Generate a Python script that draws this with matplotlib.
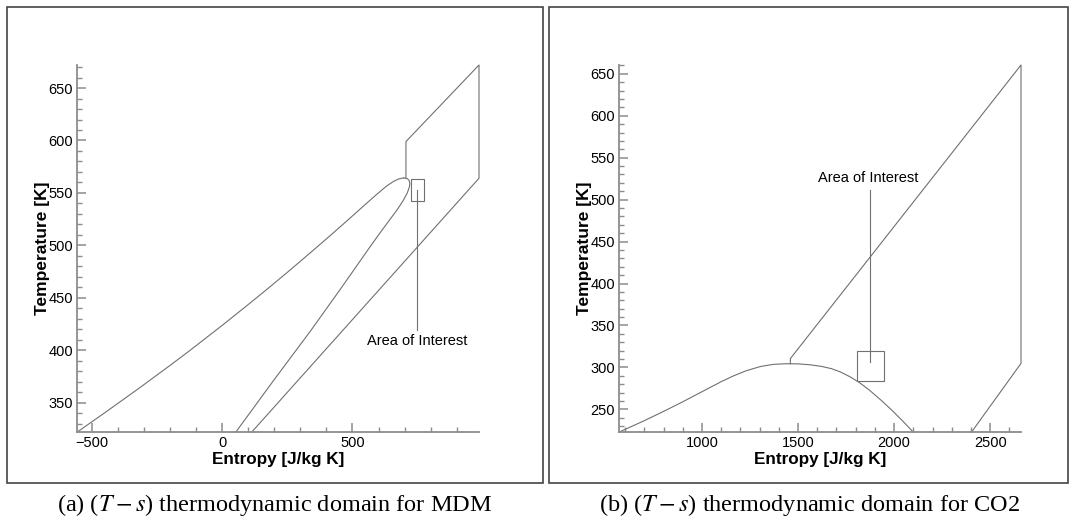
import matplotlib
matplotlib.use("Agg")
import matplotlib.pyplot as plt
from matplotlib.patches import Rectangle
from matplotlib.ticker import MultipleLocator

plt.rcParams['font.family'] = ['Liberation Sans', 'DejaVu Sans']
plt.rcParams['mathtext.fontset'] = 'stix'

# ---------------- MDM (left) ----------------
mdm_xlim = (-555, 985)
mdm_ylim = (322, 672)
mdm_bubble_s = [-555, -450, -318, -200, -131, 0, 100, 176, 260, 349, 420, 482,
                540, 589, 630, 656, 675, 688, 696]
mdm_bubble_T = [322, 340.3, 363.8, 385.4, 398.3, 423.6, 443.5, 458.9, 476.3, 495.2,
                510.5, 524.1, 537, 547.8, 556.4, 560.8, 563.1, 564.0, 564.3]
mdm_dew_s = [696, 703, 710, 717, 720, 718, 710, 695, 670, 640, 600, 560, 453, 338, 200, 53]
mdm_dew_T = [564.3, 564.2, 563.6, 562, 559, 555.5, 550, 543, 533.5, 523.5, 510, 496,
             458, 418, 372, 322]
mdm_domain_s = [705, 705, 985, 985, 114]
mdm_domain_T = [563.9, 599, 672, 564, 322]
mdm_box_s = (724, 775)
mdm_box_T = (542, 563)
mdm_pointer_s = [747, 747]
mdm_pointer_T = [553, 419]
mdm_label_pos = (747, 409)

# ---------------- CO2 (right) ----------------
co2_xlim = (570, 2660)
co2_ylim = (223, 660.5)
co2_dome_s = [570, 700, 800, 900, 1000, 1100, 1165, 1230, 1303, 1370, 1440, 1500,
              1560, 1620, 1674, 1720, 1769, 1820, 1873, 1930, 1990, 2050, 2099]
co2_dome_T = [223, 236.5, 247.5, 259, 271, 283, 290, 296, 301, 303.6, 304.4, 304.2,
              303.2, 301.3, 298.5, 294.6, 289.0, 281.8, 272.6, 261.3, 248.6, 234.8, 223]
co2_domain_s = [1460, 1460, 2660, 2660, 2403]
co2_domain_T = [304.4, 310.5, 660.5, 304.8, 223]
co2_box_s = (1807, 1948)
co2_box_T = (284, 319)
co2_pointer_s = [1873, 1873]
co2_pointer_T = [306, 511]
co2_label_pos = (1866, 526)

captions = [r"(a) ($T-s$) thermodynamic domain for MDM",
            r"(b) ($T-s$) thermodynamic domain for CO2"]

W, H = 1073, 525
fig = plt.figure(figsize=(W / 100, H / 100), dpi=100)

line_c = '#707070'
axis_c = '#8c8c8c'

def make_ax(left_px, right_px, top_px, bottom_px):
    return fig.add_axes([left_px / W, 1 - bottom_px / H,
                         (right_px - left_px) / W, (bottom_px - top_px) / H])

def style(ax, xlim, ylim, xmaj, xmin, ymaj, ymin):
    ax.set_xlim(*xlim)
    ax.set_ylim(*ylim)
    for sp in ['top', 'right']:
        ax.spines[sp].set_visible(False)
    for sp in ['left', 'bottom']:
        ax.spines[sp].set_color(axis_c)
        ax.spines[sp].set_linewidth(1.3)
    ax.xaxis.set_major_locator(MultipleLocator(xmaj))
    ax.xaxis.set_minor_locator(MultipleLocator(xmin))
    ax.yaxis.set_major_locator(MultipleLocator(ymaj))
    ax.yaxis.set_minor_locator(MultipleLocator(ymin))
    ax.tick_params(which='major', direction='in', length=6.5, width=1.1,
                   color=axis_c, labelsize=10.5, pad=3)
    ax.tick_params(which='minor', direction='in', length=3.8, width=1.0,
                   color=axis_c)
    ax.set_xlabel('Entropy [J/kg K]', fontsize=12.3, fontweight='bold', labelpad=1)
    ax.set_ylabel('Temperature [K]', fontsize=12.5, fontweight='bold')
    ax.yaxis.set_label_coords(-0.069, 0.5)
    ax.set_facecolor('none')

# left panel
ax1 = make_ax(77.3, 479, 65, 432)
style(ax1, mdm_xlim, mdm_ylim, 500, 100, 50, 10)
ax1.plot(mdm_bubble_s, mdm_bubble_T, color=line_c, lw=0.8, clip_on=False)
ax1.plot(mdm_dew_s, mdm_dew_T, color=line_c, lw=0.8, clip_on=False)
ax1.plot(mdm_domain_s, mdm_domain_T, color=line_c, lw=0.8, clip_on=False)
ax1.add_patch(Rectangle((mdm_box_s[0], mdm_box_T[0]), mdm_box_s[1] - mdm_box_s[0],
                        mdm_box_T[1] - mdm_box_T[0], fill=False, ec=line_c, lw=0.8))
ax1.plot(mdm_pointer_s, mdm_pointer_T, color=line_c, lw=0.8)
ax1.text(*mdm_label_pos, 'Area of Interest', ha='center', va='center', fontsize=10.5)

# right panel
ax2 = make_ax(619.3, 1021, 65, 432)
style(ax2, co2_xlim, co2_ylim, 500, 100, 50, 10)
ax2.plot(co2_dome_s, co2_dome_T, color=line_c, lw=0.8, clip_on=False)
ax2.plot(co2_domain_s, co2_domain_T, color=line_c, lw=0.8, clip_on=False)
ax2.add_patch(Rectangle((co2_box_s[0], co2_box_T[0]), co2_box_s[1] - co2_box_s[0],
                        co2_box_T[1] - co2_box_T[0], fill=False, ec=line_c, lw=0.8))
ax2.plot(co2_pointer_s, co2_pointer_T, color=line_c, lw=0.8)
ax2.text(*co2_label_pos, 'Area of Interest', ha='center', va='center', fontsize=10.5)

# panel frames
for (x0, x1) in [(7, 543), (549, 1068)]:
    fig.add_artist(Rectangle((x0 / W, 1 - 483 / H), (x1 - x0) / W, (483 - 7) / H,
                             transform=fig.transFigure, fill=False,
                             ec='#444444', lw=1.2))

# captions
fig.text(275 / W, 1 - 505 / H, captions[0], ha='center', va='center',
         fontsize=17.5, family='Liberation Serif')
fig.text(810 / W, 1 - 505 / H, captions[1], ha='center', va='center',
         fontsize=17.5, family='Liberation Serif')

fig.savefig('out.png', dpi=100)
